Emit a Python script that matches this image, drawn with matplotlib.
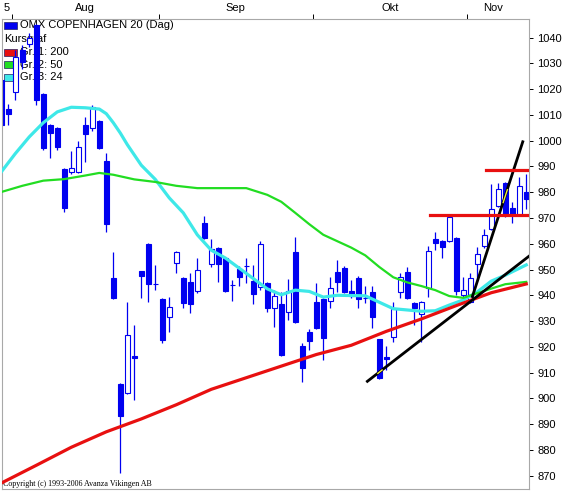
import matplotlib
matplotlib.use('Agg')
import matplotlib.pyplot as plt
from matplotlib.patches import Rectangle

# daily candles, index 0 = first (partly hidden) candle at the left edge
opens = [1023.6, 1012.3, 1018.9, 1035.2, 1037.5, 1044.9, 1018.1, 1006.1, 1004.9, 989.0,
         987.8, 987.8, 1006.1, 1004.9, 1007.7, 992.1, 946.7, 905.5, 902.0, 916.3,
         949.4, 959.9, 944.5, 938.5, 931.5, 952.5, 946.7, 945.1, 941.6, 968.0,
         952.1, 958.4, 954.5, 944.1, 950.2, 951.5, 945.5, 943.2, 944.7, 935.0,
         936.6, 933.5, 956.8, 920.3, 925.7, 937.4, 938.5, 937.8, 949.0, 950.6,
         941.6, 946.7, 939.0, 941.2, 923.0, 916.0, 923.8, 941.2, 949.0, 937.0,
         932.7, 942.8, 961.8, 961.0, 961.1, 962.2, 940.0, 937.4, 952.1, 959.1,
         965.7, 974.6, 983.6, 973.9, 971.1, 980.1]
highs = [1025.0, 1014.2, 1035.2, 1037.0, 1041.8, 1045.5, 1018.5, 1006.5, 1005.2, 989.5,
         996.0, 999.9, 1009.2, 1013.9, 1008.2, 995.2, 956.8, 906.0, 937.4, 928.4,
         949.6, 960.2, 951.8, 939.0, 939.3, 957.2, 947.1, 948.6, 954.5, 970.7,
         961.8, 958.8, 955.0, 945.9, 951.4, 954.5, 951.8, 961.1, 945.0, 942.0,
         941.2, 946.3, 962.6, 921.4, 927.0, 944.7, 939.0, 947.1, 953.7, 951.5,
         945.9, 947.5, 943.6, 943.6, 923.2, 920.3, 937.4, 948.6, 951.0, 937.4,
         937.8, 959.1, 964.6, 961.3, 971.0, 962.5, 947.0, 948.6, 958.8, 965.7,
         983.2, 983.6, 984.0, 976.2, 985.9, 987.1]
lows = [1004.2, 1006.1, 1015.8, 1028.0, 1036.5, 1013.9, 996.5, 993.3, 996.4, 972.3,
        987.0, 987.3, 991.7, 1003.8, 996.8, 964.6, 938.5, 871.0, 901.5, 899.3,
        938.9, 937.4, 942.0, 921.4, 925.7, 948.6, 935.0, 933.1, 940.9, 961.8,
        951.0, 945.1, 941.2, 937.8, 943.6, 944.7, 936.6, 942.0, 933.5, 927.7,
        916.5, 930.4, 929.3, 906.3, 918.7, 927.0, 914.8, 935.0, 941.2, 940.9,
        939.0, 935.0, 937.0, 927.3, 907.5, 911.0, 921.8, 938.9, 938.5, 928.4,
        921.8, 939.3, 957.6, 954.5, 960.7, 940.1, 938.0, 937.0, 945.9, 958.5,
        965.3, 974.3, 970.4, 968.0, 970.7, 973.5]
closes = [1006.1, 1010.4, 1032.6, 1030.6, 1039.9, 1015.8, 997.2, 1003.0, 997.6, 973.9,
          989.4, 997.6, 1002.6, 1013.1, 997.2, 967.7, 938.9, 893.1, 924.6, 915.8,
          947.5, 944.4, 944.3, 922.6, 935.4, 956.8, 937.0, 936.6, 949.8, 962.2,
          958.0, 952.1, 941.6, 943.9, 947.1, 951.3, 940.5, 959.9, 935.0, 939.7,
          916.8, 941.6, 929.6, 911.7, 922.2, 927.3, 923.4, 942.8, 945.1, 941.2,
          939.7, 938.5, 938.8, 931.5, 907.9, 915.2, 934.6, 947.1, 938.9, 935.0,
          937.4, 957.2, 960.3, 958.8, 970.4, 941.6, 942.0, 946.7, 956.0, 963.4,
          973.5, 981.2, 971.1, 971.1, 982.4, 977.4]

# moving averages (day index, level)
ma200_day = [0, 5, 10, 15, 20, 25, 30, 35, 40, 45, 50, 55, 60, 65, 70, 75]
ma200 = [867.1, 874.0, 881.0, 887.0, 892.0, 897.5, 903.5, 908.0, 912.5, 917.0,
         920.6, 926.0, 930.8, 936.0, 941.0, 944.4]
ma50_day = [0, 3, 6, 9, 12, 14, 16, 19, 22, 25, 28, 31, 35, 38, 40, 42, 44, 46, 48,
            50, 52, 54, 56, 58, 60, 62, 64, 66, 68, 70, 72, 75]
ma50 = [980.1, 982.5, 984.5, 985.1, 986.5, 987.5, 986.8, 985.0, 984.0, 982.5, 981.6,
        981.6, 981.6, 979.0, 976.3, 972.0, 967.6, 963.5, 961.0, 958.5, 955.5, 951.0,
        947.0, 945.0, 943.6, 942.0, 939.7, 939.0, 940.8, 942.6, 944.3, 945.2]
ma24_day = [0, 2, 4, 6, 8, 10, 12, 14, 15, 16, 17, 18, 19, 20, 22, 24, 26, 28, 30, 32,
            34, 36, 38, 40, 42, 44, 46, 48, 50, 52, 54, 56, 58, 60, 62, 64, 66, 68, 70,
            72, 75]
ma24 = [987.9, 995.0, 1001.5, 1007.0, 1011.2, 1013.0, 1012.8, 1012.3, 1010.5, 1007.0,
        1003.0, 998.5, 994.5, 990.5, 985.0, 977.8, 972.0, 963.5, 957.5, 954.5, 950.5,
        946.5, 942.5, 940.2, 942.0, 941.5, 939.3, 940.0, 939.9, 939.8, 937.3, 934.8,
        934.3, 933.8, 934.0, 936.2, 938.2, 941.3, 945.5, 947.8, 951.8]

# hand drawn trend lines and resistance levels
trend1_day, trend1 = [52.3, 75.4], [906.6, 955.2]
trend2_day, trend2 = [67.3, 74.5], [939.5, 999.6]
level1_day, level1 = [61.2, 75.4], 971.0
level2_day, level2 = [69.2, 75.4], 988.6
# little yellow "selected" marks sitting on the trend lines
mark1_day, mark1 = [53.8, 54.4], [909.7, 911.0]
mark2_day, mark2 = [71.7, 72.3], [976.0, 981.0]

month_ticks = [1.5, 22.5, 44.5, 66.5]
month_pos = [0.7, 12.0, 33.5, 55.5, 70.3]
month_labels = ['5', 'Aug', 'Sep', 'Okt', 'Nov']
y_ticks = list(range(870, 1041, 10))

BLUE = '#0000f0'
RED = '#e81010'
GREEN = '#22dd22'
CYAN = '#3ee8e8'
W, H = 565, 491

plt.rcParams['font.family'] = ['Liberation Sans', 'DejaVu Sans']
fig = plt.figure(figsize=(W / 100, H / 100), dpi=100)
ax = fig.add_axes([1.5 / W, 2 / H, 527.5 / W, 470 / H])
ax.set_xlim(0.03, 75.39)
ax.set_ylim(864.8, 1047.26)

days = list(range(len(opens)))
ax.vlines(days, lows, highs, color=BLUE, lw=0.9, zorder=2)
bottoms = [min(o, c) for o, c in zip(opens, closes)]
heights = [max(abs(c - o), 0.25) for o, c in zip(opens, closes)]
faces = ['white' if c > o else BLUE for o, c in zip(opens, closes)]
ax.bar(days, heights, bottom=bottoms, width=0.64, color=faces, edgecolor=BLUE,
       lw=0.8, zorder=2.5)

ax.plot(ma24_day, ma24, color=CYAN, lw=2.3, zorder=3)
ax.plot(ma50_day, ma50, color=GREEN, lw=1.6, zorder=3.1)
ax.plot(ma200_day, ma200, color=RED, lw=2.3, zorder=3.2)

ax.plot(trend1_day, trend1, color='black', lw=2.0, zorder=4)
ax.plot(trend2_day, trend2, color='black', lw=2.0, zorder=4)
ax.plot(mark1_day, mark1, color='#f0f040', lw=1.0, zorder=4.1)
ax.plot(mark2_day, mark2, color='#f0f040', lw=1.0, zorder=4.1)
ax.plot(level1_day, [level1, level1], color=RED, lw=2.3, zorder=4)
ax.plot(level2_day, [level2, level2], color=RED, lw=2.3, zorder=4)

# axes frame and ticks
for s in ax.spines.values():
    s.set_color('#a8a8a8')
    s.set_linewidth(0.8)
ax.yaxis.tick_right()
ax.set_yticks(y_ticks)
ax.set_yticklabels([str(v) for v in y_ticks])
ax.tick_params(axis='y', direction='out', length=3, width=0.7, pad=3,
               labelsize=8, colors='black')
ax.xaxis.tick_top()
ax.set_xticks(month_ticks)
ax.set_xticklabels([''] * len(month_ticks))
ax.set_xticks(month_pos, minor=True)
ax.set_xticklabels(month_labels, minor=True)
ax.tick_params(axis='x', which='major', direction='out', length=3.5, width=0.7,
               colors='black')
ax.tick_params(axis='x', which='minor', length=0, pad=4.5, labelsize=8)

# legend block, drawn underneath the candles
def fx(x):
    return x / W

def fy(y):
    return 1 - y / H

legend_rows = [('OMX COPENHAGEN 20 (Dag)', BLUE, 25.5),
               ('Kursgraf', None, 39),
               ('Gr. 1: 200', RED, 52),
               ('Gr. 2: 50', GREEN, 64.5),
               ('Gr. 3: 24', CYAN, 77.5)]
for label, col, yc in legend_rows:
    if col is None:
        ax.text(fx(4), fy(yc), label, transform=fig.transFigure, fontsize=8,
                va='center', ha='left', zorder=1)
        continue
    ax.add_patch(Rectangle((fx(4), fy(yc + 3.5)), 13 / W, 7 / H, transform=fig.transFigure,
                           facecolor=col, edgecolor='#202060', lw=0.5, zorder=1,
                           clip_on=False))
    ax.text(fx(20), fy(yc), label, transform=fig.transFigure, fontsize=8,
            va='center', ha='left', zorder=1)

ax.text(fx(3), fy(484), 'Copyright (c) 1993-2006 Avanza Vikingen AB',
        transform=fig.transFigure, fontsize=5.8, family='Liberation Serif',
        va='center', ha='left', zorder=1)

fig.savefig('out.png', dpi=100)
